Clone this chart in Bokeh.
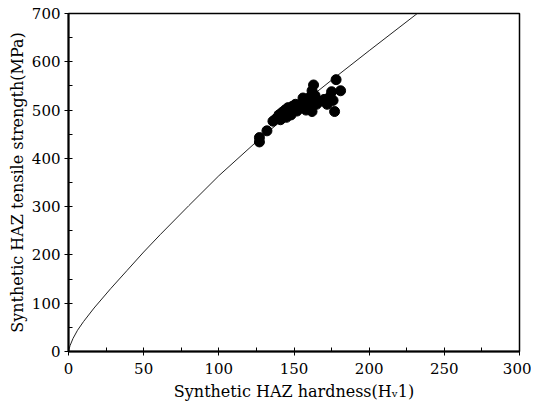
from bokeh.plotting import figure
from bokeh.models import Range1d, FixedTicker
from bokeh.embed import file_html
from bokeh.resources import INLINE

# Measured data: hardness (Hv1) vs tensile strength (MPa)
hardness = [127, 127, 132, 136, 138, 140, 141, 142, 143, 144, 145, 146, 147, 148,
            149, 150, 151, 152, 153, 155, 156, 157, 158, 159, 160, 161, 162, 162,
            163, 164, 165, 167, 170, 172, 174, 175, 176, 177, 178, 181]
strength = [443, 434, 457, 477, 482, 490, 480, 495, 487, 500, 485, 505, 497, 490,
            508, 503, 512, 498, 510, 505, 525, 512, 500, 520, 515, 528, 497, 540,
            552, 530, 512, 518, 522, 512, 528, 538, 520, 497, 563, 540]

# Fitted curve
curve_x = [0, 1, 3, 6, 10, 17, 28, 39, 50, 61, 80, 100, 127, 150, 175, 200, 232]
curve_y = [0, 12, 27, 44, 62, 90, 130, 168, 206, 242, 302, 364, 440, 500, 562, 623, 700]

x_ticks = [0, 50, 100, 150, 200, 250, 300]
y_ticks = [0, 100, 200, 300, 400, 500, 600, 700]

FONT = "DejaVu Serif"

p = figure(width=531, height=404, output_backend="svg", toolbar_location=None,
           x_range=Range1d(0, 300), y_range=Range1d(0, 700),
           min_border_left=68, min_border_right=12, min_border_top=13,
           min_border_bottom=53)
p.frame_width = 451
p.frame_height = 338
p.xgrid.visible = False
p.ygrid.visible = False
p.outline_line_color = "black"
p.outline_line_width = 1.5
p.background_fill_color = "white"
p.border_fill_color = "white"

p.line(curve_x, curve_y, line_color="#222222", line_width=1)
p.scatter(hardness, strength, size=10, marker="circle",
          fill_color="black", line_color="black")

for ax, ticks in ((p.xaxis[0], x_ticks), (p.yaxis[0], y_ticks)):
    ax.ticker = FixedTicker(ticks=ticks,
                            minor_ticks=[t + (ticks[1] - ticks[0]) / 2 for t in ticks[:-1]])
    ax.axis_line_width = 2
    ax.axis_line_color = "black"
    ax.major_tick_line_color = "black"
    ax.minor_tick_line_color = "black"
    ax.major_tick_in = 4
    ax.major_tick_out = 4
    ax.minor_tick_in = 4
    ax.minor_tick_out = 0
    ax.major_label_text_font = FONT
    ax.major_label_text_font_size = "15px"
    ax.major_label_text_color = "black"
    ax.axis_label_text_font = FONT
    ax.axis_label_text_font_size = "16px"
    ax.axis_label_text_font_style = "normal"
    ax.axis_label_text_color = "black"

p.yaxis[0].axis_label = "Synthetic HAZ tensile strength(MPa)"
p.yaxis[0].axis_label_standoff = 2
p.yaxis[0].major_label_standoff = 4
p.xaxis[0].major_label_standoff = 7
p.xaxis[0].axis_label = "Synthetic HAZ hardness(H\u1d651)"
p.xaxis[0].axis_label_standoff = 5

open("out.html", "w").write(file_html(p, INLINE))
